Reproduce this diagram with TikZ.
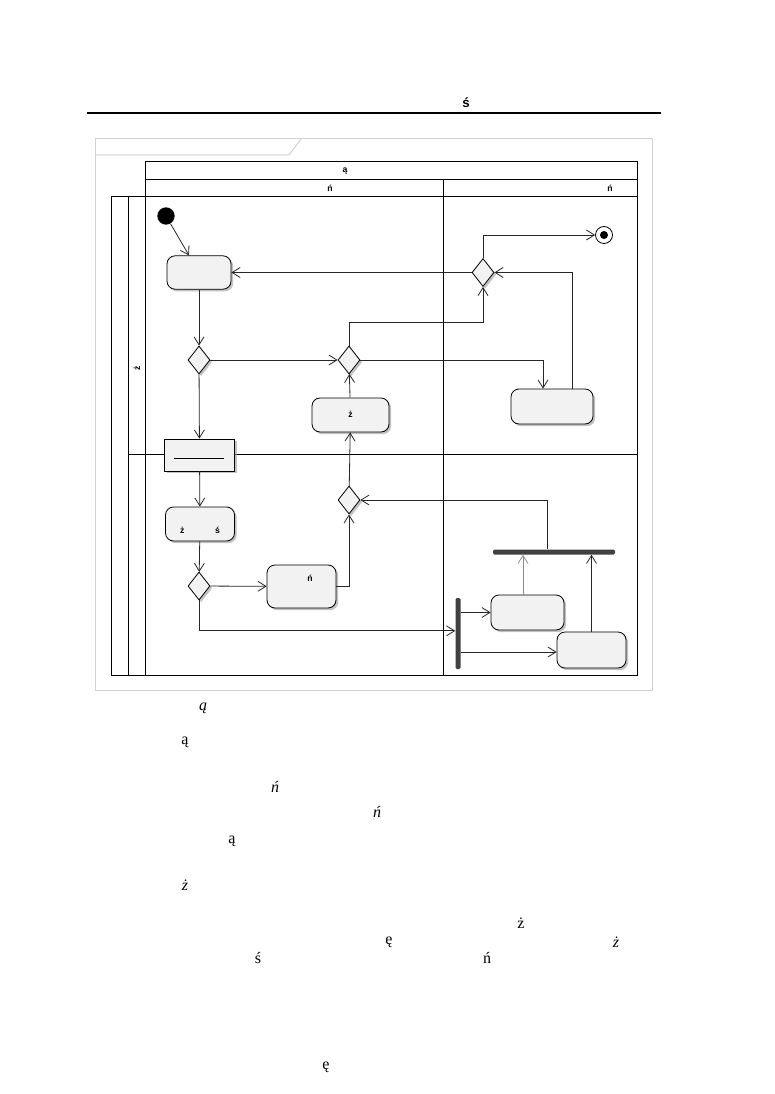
\documentclass[tikz,border=0pt]{standalone}
\usepackage{fontspec}
\setmainfont{Liberation Serif}
\setsansfont{Liberation Sans}
\usetikzlibrary{shapes.geometric,arrows.meta,positioning,shadows}

\begin{document}
\begin{tikzpicture}[
        x=0.75pt, y=-0.75pt,
        action/.style={
            rectangle, rounded corners=6pt, draw=black, fill=black!5,
            line width=0.6pt, inner sep=0pt,
            font=\sffamily\bfseries\fontsize{6.5}{8}\selectfont,
            drop shadow={shadow xshift=1.6pt, shadow yshift=-1.6pt, fill=black!40, opacity=0.6}
        },
        objnode/.style={
            action, rounded corners=0pt
        },
        decision/.style={
            diamond, aspect=0.79, draw=black, fill=black!5, line width=0.6pt,
            inner sep=0pt, minimum height=21pt, minimum width=16.5pt,
            drop shadow={shadow xshift=1.6pt, shadow yshift=-1.6pt, fill=black!40, opacity=0.6}
        },
        syncbar/.style={rectangle, fill=black!75, inner sep=0pt, rounded corners=1pt},
        flow/.style={-{Straight Barb[length=6pt,width=7.5pt]}, line width=0.6pt, draw=black!85},
        lane/.style={line width=0.75pt, draw=black},
        lanetxt/.style={font=\sffamily\bfseries\fontsize{6.5}{8}\selectfont, inner sep=0pt},
        bodytxt/.style={font=\fontsize{12}{14}\selectfont, inner sep=0pt}
    ]
    \useasboundingbox (0,0) rectangle (774,1094);

    % Page head
    \node[font=\sffamily\bfseries\fontsize{10}{12}\selectfont, inner sep=0pt] (head) at (466,103) {ś};
    \draw[line width=1.5pt] (87,113) -- (661,113);

    % Diagram frame
    \draw[black!18, line width=0.75pt] (95,139) rectangle (652,690);
    \draw[black!18, line width=0.75pt] (95,155) -- (289,155) -- (301,139);

    % Swimlanes
    \draw[lane] (145,162) rectangle (637,197);
    \draw[lane] (145,180) -- (637,180);
    \draw[lane] (443,180) -- (443,675);
    \draw[lane] (111,197) rectangle (637,675);
    \draw[lane] (128,197) -- (128,675);
    \draw[lane] (145,197) -- (145,675);
    \draw[lane] (128,454) -- (637,454);
    \node[lanetxt] (hdr) at (345,171) {ą};
    \node[lanetxt] (part1) at (330,188) {ń};
    \node[lanetxt] (part2) at (610,188) {ń};
    \node[lanetxt, rotate=90] (lane1) at (137,368) {ż};

    % Upper lane
    \node[circle, fill=black, minimum size=13pt, inner sep=0pt] (start) at (166,216) {};
    \node[action, minimum width=48pt, minimum height=25pt] (a1) at (199,272.5) {};
    \node[decision] (d1) at (199,360) {};
    \node[decision] (d2) at (349,360) {};
    \node[action, minimum width=57.75pt, minimum height=25.5pt, text depth=1.5pt] (a2) at (350.5,415) {ż};
    \node[decision] (d3) at (483,272.5) {};
    \node[circle, draw=black, fill=white, line width=0.6pt, minimum size=12.75pt, inner sep=0pt] (stop) at (604,235) {};
    \fill[black] (stop.center) circle (4);
    \node[action, minimum width=61.5pt, minimum height=26.25pt] (a3) at (552,406.5) {};
    \node[objnode, minimum width=52.5pt, minimum height=24pt] (obj) at (199.5,455) {};
    \draw[line width=0.6pt] (174,458) -- (224,458);

    % Lower lane
    \node[action, minimum width=51.75pt, minimum height=25.5pt, text height=14pt, text depth=0pt] (a4) at (200,524) {ż\hspace{23pt}ś};
    \node[decision] (d4) at (199,586) {};
    \node[action, minimum width=51.75pt, minimum height=32.25pt, text height=0pt, text depth=8pt] (a5) at (301.5,586.5) {\hspace{12.75pt}ń};
    \node[decision] (d5) at (349,500) {};
    \node[syncbar, minimum width=3.75pt, minimum height=53.25pt] (fork) at (458,633.5) {};
    \node[action, minimum width=54.75pt, minimum height=26.25pt] (a6) at (527.5,612.5) {};
    \node[action, minimum width=51.75pt, minimum height=27pt] (a7) at (591.5,650) {};
    \node[syncbar, minimum width=91.5pt, minimum height=3.75pt] (join) at (554,552) {};

    % Flows
    \draw[flow] (start) -- (a1);
    \draw[flow] (a1) -- (d1);
    \draw[flow] (d1) -- (d2);
    \draw[flow] (d1) -- (obj);
    \draw[flow] (a2) -- (d2);
    \draw[flow] (d2.north) -- ++(0,-23) -| (d3.south);
    \draw[flow] (d2.east) -| ([xshift=-6.75pt]a3.north);
    \draw[flow] (d3) -- (a1);
    \draw[flow] (d3.north) |- (stop);
    \draw[flow] ([xshift=15pt]a3.north) |- (d3.east);
    \draw[flow] (obj) -- (a4);
    \draw[flow] (a4) -- (d4);
    \draw[flow] (d4) -- (a5);
    \draw[flow] (a5.east) -| (d5.south);
    \draw[flow] (d5) -- (a2);
    \draw[flow] (d4.south) |- ([yshift=2pt]fork.west);
    \draw[flow] (fork.east |- a6.west) -- (a6.west);
    \draw[flow] ([yshift=-1.5pt]fork.east |- a7.west) -- ([yshift=-1.5pt]a7.west);
    \draw[flow, draw=black!45] ([xshift=-3.4pt]a6.north) -- ([xshift=-3.4pt]a6.north |- join.south);
    \draw[flow] (a7.north) -- (a7.north |- join.south);
    \draw[flow] ([xshift=-5.25pt]join.north) |- (d5.east);

    % Body text
    \node[bodytxt, font=\itshape\fontsize{12}{14}\selectfont] (t1) at (203,708) {ą};
    \node[bodytxt] (t2) at (185,742) {ą};
    \node[bodytxt, font=\itshape\fontsize{12}{14}\selectfont] (t3) at (275,787) {ń};
    \node[bodytxt, font=\itshape\fontsize{12}{14}\selectfont] (t4) at (377,812) {ń};
    \node[bodytxt] (t5) at (232,841) {ą};
    \node[bodytxt, font=\itshape\fontsize{12}{14}\selectfont] (t6) at (185,885) {ż};
    \node[bodytxt] (t7) at (521,923) {ż};
    \node[bodytxt] (t8) at (389,942) {ę};
    \node[bodytxt, font=\itshape\fontsize{12}{14}\selectfont] (t9) at (616,942) {ż};
    \node[bodytxt] (t10) at (258,958) {ś};
    \node[bodytxt] (t11) at (487,958) {ń};
    \node[bodytxt] (t12) at (326,1067) {ę};
\end{tikzpicture}
\end{document}
